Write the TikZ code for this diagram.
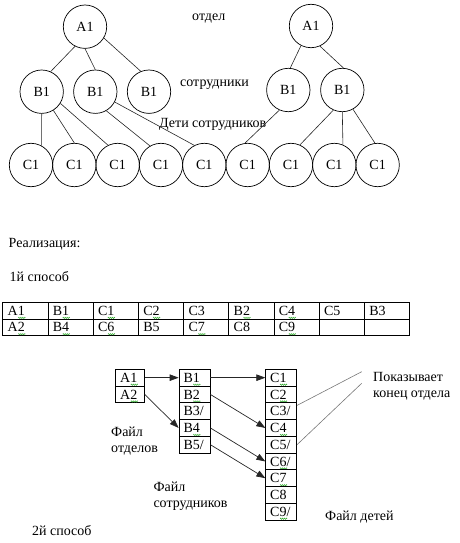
\documentclass[tikz,border=0pt]{standalone}
\usepackage{fontspec}
\setmainfont{Liberation Serif}
\usepackage{tikz}
\usetikzlibrary{arrows.meta,decorations.pathmorphing}
\definecolor{spell}{HTML}{3DAF3A}
\definecolor{gline}{HTML}{777777}

% green wavy mark under a digit, as the spell checker leaves it
\newlength{\digwd}
\newcommand{\spl}[1]{\settowidth{\digwd}{#1}%
  \tikz[overlay,baseline=0pt]\draw[spell,line width=0.5pt,decorate,
    decoration={zigzag,segment length=2pt,amplitude=0.7pt}]
    (0.5pt,-2.4pt) -- (\the\digwd+0.5pt,-2.4pt);#1}

\begin{document}
\begin{tikzpicture}[
  x=1pt, y=-1pt,
  font=\fontsize{14}{16}\selectfont,
  circ/.style={draw, circle, minimum size=43.4pt, inner sep=0pt, line width=0.7pt},
  link/.style={draw=black!85, line width=0.6pt},
  tcell/.style={draw, line width=0.7pt, minimum width=45.2pt, minimum height=16.3pt,
                inner xsep=5pt, inner ysep=0pt, text width=35.2pt, align=left,
                text height=9.3pt, text depth=0pt},
  fcell/.style={draw, line width=0.7pt, minimum height=16.75pt, inner xsep=4.5pt,
                inner ysep=0pt, text width=#1, align=left, text height=9.3pt, text depth=0pt},
  arr/.style={-{Triangle[length=9pt,width=6.5pt]}, draw=black!85, line width=0.7pt},
  hint/.style={draw=gline, line width=0.6pt},
  lbl/.style={inner sep=0pt, anchor=base west},
  note/.style={inner sep=0pt, anchor=north west, align=left},
]
\useasboundingbox (0,0) rectangle (459,543);

% Two departments with their employees and the employees' children.
\node[circ] (dept1) at (85,26.7) {A1};
\node[circ] (emp11) at (41.7,91.7) {B1};
\node[circ] (emp12) at (95.3,91.7) {B1};
\node[circ] (emp13) at (149,91.7) {B1};
\node[circ] (dept2) at (311,26) {A1};
\node[circ] (emp21) at (288.3,90) {B1};
\node[circ] (emp22) at (342.3,90) {B1};
\foreach \i in {1,...,9} {
  \node[circ] (kid\i) at ({31+43.33*(\i-1)},165) {C1};
}

\node[lbl] (lvl1) at (192,21) {отдел};
\node[lbl] (lvl2) at (180,86) {сотрудники};
\node[lbl] (lvl3) at (159,127.5) {Дети сотрудников};

\draw[link] (dept1.-117) -- (emp11.66);
\draw[link] (dept1.south) -- (emp12.north);
\draw[link] (dept1.-31) -- (emp13.112);
\draw[link] (dept2.-117) -- (emp21.85);
\draw[link] (dept2.-66) -- (emp22.87);
\draw[link] (emp11.-90) -- (kid1.61);
\draw[link] (emp11.-58) -- (kid2.north);
\draw[link] (emp11.-32) -- (kid3.116);
\draw[link] (emp12.-60) -- (kid4.120);
\draw[link] (emp12.-28) -- (kid5.117);
\draw[link] (emp21.-114) -- (kid6.97);
\draw[link] (emp22.-114) -- (kid7.66);
\draw[link] (emp22.-90) -- (kid8.67);
\draw[link] (emp22.-61) -- (kid9.97);

% First way: one flat file.
\node[lbl] (impl) at (8.5,247.5) {Реализация:};
\node[lbl] (way1) at (9.5,281.5) {1й способ};
\foreach \t [count=\i] in {A\spl{1},B\spl{1},C\spl{1},C\spl{2},C3,B\spl{2},C\spl{4},C5,B3} {
  \node[tcell] (ra\i) at ({2.7+45.2*(\i-0.5)},310.85) {\t};
}
\foreach \t [count=\i] in {A\spl{2},B\spl{4},C\spl{6},B5,C\spl{7},C8,C\spl{9},{},{}} {
  \node[tcell] (rb\i) at ({2.7+45.2*(\i-0.5)},327.15) {\t};
}

% Second way: three files linked by pointers.
\foreach \t [count=\i] in {A\spl{1},A\spl{2}} {
  \node[fcell=19.7pt] (fa\i) at (130,{369.3+16.75*(\i-0.5)}) {\t};
}
\foreach \t [count=\i] in {B\spl{1},B\spl{2},{B3/},B\spl{4},{B5/}} {
  \node[fcell=22pt] (fb\i) at (194.5,{369.3+16.75*(\i-0.5)}) {\t};
}
\foreach \t [count=\i] in {C\spl{1},C\spl{2},{C3/},C\spl{4},{C5/},{C\spl{6}/},C\spl{7},C8,{C\spl{9}/}} {
  \node[fcell=22pt] (fc\i) at (281.2,{369.3+16.75*(\i-0.5)}) {\t};
}

\draw[arr] (fa1) -- (fb1);
\draw[arr] (fa2.east) -- (fb4.west);
\draw[arr] (fb1) -- (fc1);
\draw[arr] (fb2.east) -- (fc4.west);
\draw[arr] (fb4.east) -- (fc6.west);
\draw[arr] (fb5.east) -- (fc7.west);

\node[note] (endnote) at (373,372) {Показывает\\конец отдела};
\coordinate (n1) at (361.7,371.7);
\coordinate (n2) at (361.7,383.3);
\draw[hint] (n1) -- (fc3.20);
\draw[hint] (n2) -- (fc5.east);

\node[note] (fileA) at (111,426.7) {Файл\\отделов};
\node[note] (fileB) at (153.3,481.7) {Файл\\сотрудников};
\node[lbl] (fileC) at (325,520) {Файл детей};
\node[lbl] (way2) at (32,535.5) {2й способ};
\end{tikzpicture}
\end{document}
